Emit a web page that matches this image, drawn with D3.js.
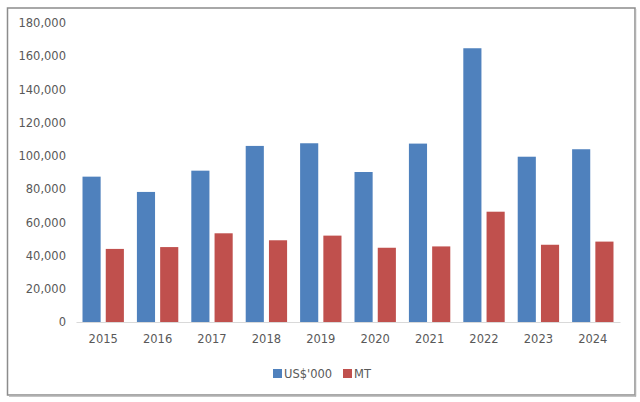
<!DOCTYPE html>
<html><head><meta charset="utf-8">
<script src="https://cdn.jsdelivr.net/npm/d3@7"></script>
<style>body{margin:0;background:#fff}svg{display:block}</style>
</head><body>
<svg id="c" width="640" height="402"></svg>
<script>
const years = ["2015","2016","2017","2018","2019","2020","2021","2022","2023","2024"];
const usd = [87500, 78300, 91100, 106000, 107600, 90300, 107400, 164800, 99500, 104000];
const mt = [44000, 45100, 53400, 49200, 52000, 44700, 45500, 66400, 46500, 48400];
const seriesNames = ["US$'000", "MT"];
const yTicks = [0,20000,40000,60000,80000,100000,120000,140000,160000,180000];
const colors = ["#4f81bd", "#c0504d"];

const svg = d3.select("#c");
const font = "'DejaVu Sans', sans-serif";
// frame
svg.append("rect").attr("x",7.5).attr("y",8).attr("width",627.5).attr("height",387)
  .attr("fill","none").attr("stroke","#8c8c8c").attr("stroke-width",1.5);
svg.append("line").attr("x1",635.5).attr("x2",635.5).attr("y1",9).attr("y2",396.5).attr("stroke","#b0b0b0").attr("stroke-width",1.5);
svg.append("line").attr("x1",9).attr("x2",636).attr("y1",396).attr("y2",396).attr("stroke","#b0b0b0").attr("stroke-width",1.5);

const x = d3.scaleBand().domain(years).range([76,620]).paddingInner(0).paddingOuter(0);
const y = d3.scaleLinear().domain([0,180000]).range([322,23]);

const gy = svg.append("g").attr("transform","translate(66,0)")
  .call(d3.axisLeft(y).tickValues(yTicks).tickSize(0).tickPadding(0).tickFormat(d3.format(",")));
gy.select(".domain").remove();
gy.selectAll("text").attr("font-family",font).attr("font-size","11.5px").attr("fill","#595959");

const gx = svg.append("g").attr("transform","translate(0,322)")
  .call(d3.axisBottom(x).tickSize(0).tickPadding(13));
gx.select(".domain").attr("stroke","#d9d9d9").attr("stroke-width",1.2);
gx.selectAll("text").attr("font-family",font).attr("font-size","11.5px").attr("fill","#595959");

const bw = x.bandwidth();
const inner = d3.scaleBand().domain([0,1]).range([0,bw]).paddingInner(0.22).paddingOuter(0.28);
[usd, mt].forEach((arr, s) => {
  svg.append("g").selectAll("rect").data(arr).join("rect")
    .attr("x",(d,i)=>x(years[i])+inner(s))
    .attr("width",inner.bandwidth())
    .attr("y",d=>y(d))
    .attr("height",d=>y(0)-y(d))
    .attr("fill",colors[s]);
});

// legend
const lg = svg.append("g");
const lx = [273, 343];
seriesNames.forEach((n,i)=>{
  lg.append("rect").attr("x",lx[i]).attr("y",369).attr("width",9).attr("height",9).attr("fill",colors[i]);
  lg.append("text").attr("x",lx[i]+11).attr("y",377.5).attr("font-family",font).attr("font-size","11.5px").attr("fill","#595959").text(n);
});
</script>
</body></html>
